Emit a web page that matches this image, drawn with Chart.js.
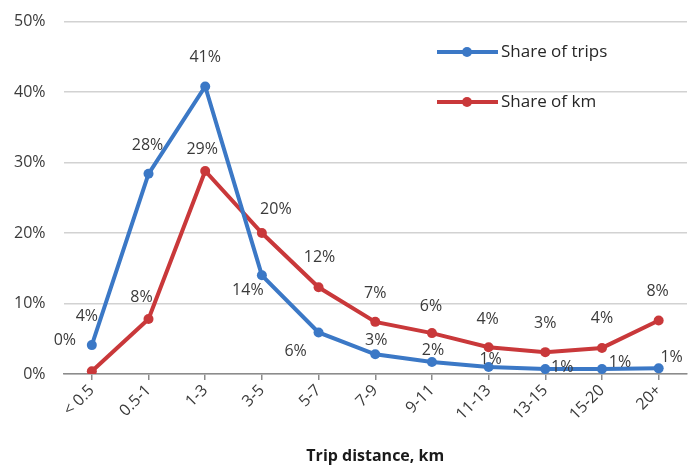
<!DOCTYPE html>
<html>
<head>
<meta charset="utf-8">
<script src="https://cdn.jsdelivr.net/npm/chart.js@4.4.1/dist/chart.umd.min.js"></script>
<style>
  html, body { margin: 0; padding: 0; background: #fff; overflow: hidden; }
  #wrap { width: 692px; height: 472px; margin-top: -6px; }
</style>
</head>
<body>
<div id="wrap"><canvas id="chart" width="692" height="472"></canvas></div>
<script>
// ===== DATA =====
const categories = ["< 0.5", "0.5-1", "1-3", "3-5", "5-7", "7-9", "9-11", "11-13", "13-15", "15-20", "20+"];
const shareTrips = [4.1, 28.4, 40.8, 14.0, 5.9, 2.8, 1.7, 1.0, 0.7, 0.7, 0.8];
const shareKm = [0.4, 7.8, 28.8, 20.0, 12.3, 7.4, 5.8, 3.8, 3.1, 3.7, 7.6];
const yTicks = [0, 10, 20, 30, 40, 50];

// label placement relative to each point (style only)
const tripsLabelOffsets = [[-5, -29], [-1, -28], [0, -29], [-14, 15], [-23, 19], [1, -14], [1, -12], [2, -8], [17, -2], [18, -7], [13, -11]];
const kmLabelOffsets = [[-27, -31], [-7, -22], [-3, -22], [14, -24], [1, -30], [0, -28], [-1, -27], [-1, -28], [0, -29], [0, -29], [-1, -29]];

const BLUE = "#3b78c6";
const RED = "#c9383a";
const TEXT = "#3a3a3a";
const FONT = "'Open Sans', 'DejaVu Sans', sans-serif";
const SHIFT = 6; // canvas is moved up by this much

// ===== PLUGINS =====
const pointLabels = {
  id: "pointLabels",
  afterDatasetsDraw(chart) {
    const ctx = chart.ctx;
    ctx.save();
    ctx.font = "16px " + FONT;
    ctx.fillStyle = TEXT;
    ctx.textAlign = "center";
    ctx.textBaseline = "middle";
    chart.data.datasets.forEach((ds, di) => {
      const meta = chart.getDatasetMeta(di);
      meta.data.forEach((pt, i) => {
        const off = ds.labelOffsets[i];
        ctx.fillText(Math.round(ds.data[i]) + "%", pt.x + off[0], pt.y + off[1]);
      });
    });
    ctx.restore();
  }
};

const insideLegend = {
  id: "insideLegend",
  afterDraw(chart) {
    const ctx = chart.ctx;
    const items = [
      { label: "Share of trips", color: BLUE, y: 52 + SHIFT },
      { label: "Share of km", color: RED, y: 102 + SHIFT }
    ];
    ctx.save();
    items.forEach(it => {
      ctx.strokeStyle = it.color;
      ctx.lineWidth = 4;
      ctx.beginPath();
      ctx.moveTo(437, it.y);
      ctx.lineTo(498, it.y);
      ctx.stroke();
      ctx.fillStyle = it.color;
      ctx.beginPath();
      ctx.arc(467, it.y, 5, 0, Math.PI * 2);
      ctx.fill();
      ctx.fillStyle = "#262626";
      ctx.font = "17px " + FONT;
      ctx.textAlign = "left";
      ctx.textBaseline = "middle";
      ctx.fillText(it.label, 501, it.y);
    });
    ctx.restore();
  }
};

// ===== CHART =====
new Chart(document.getElementById("chart"), {
  type: "line",
  data: {
    labels: categories,
    datasets: [
      {
        label: "Share of trips",
        data: shareTrips,
        labelOffsets: tripsLabelOffsets,
        borderColor: BLUE,
        backgroundColor: BLUE,
        borderWidth: 4,
        pointRadius: 5,
        pointBorderWidth: 0,
        tension: 0
      },
      {
        label: "Share of km",
        data: shareKm,
        labelOffsets: kmLabelOffsets,
        borderColor: RED,
        backgroundColor: RED,
        borderWidth: 4,
        pointRadius: 5,
        pointBorderWidth: 0,
        tension: 0
      }
    ]
  },
  options: {
    responsive: false,
    animation: false,
    devicePixelRatio: 1,
    layout: { padding: { top: 9, right: 0, bottom: 0, left: 0 } },
    plugins: {
      legend: { display: false },
      tooltip: { enabled: false }
    },
    scales: {
      x: {
        offset: true,
        afterFit: s => { s.height = 92; },
        border: { color: "#8c8c8c", width: 1.5 },
        grid: { drawOnChartArea: false, drawTicks: true, tickLength: 6, color: "#8c8c8c", lineWidth: 1.5 },
        ticks: {
          color: TEXT,
          font: { family: FONT, size: 16 },
          minRotation: 45,
          maxRotation: 45,
          padding: 1
        },
        title: {
          display: true,
          text: "Trip distance, km",
          color: "#1a1a1a",
          font: { family: FONT, size: 16, weight: "bold" },
          padding: { top: 0, bottom: 0 }
        }
      },
      y: {
        min: 0,
        max: 50,
        afterFit: s => { s.width = 63.5; },
        afterBuildTicks: s => { s.ticks = yTicks.map(v => ({ value: v })); },
        border: { display: false },
        grid: { color: "#d2d2d2", lineWidth: 1.5, drawTicks: false },
        ticks: {
          color: TEXT,
          font: { family: FONT, size: 16 },
          padding: 18,
          callback: v => v + "%"
        }
      }
    }
  },
  plugins: [pointLabels, insideLegend]
});
</script>
</body>
</html>
